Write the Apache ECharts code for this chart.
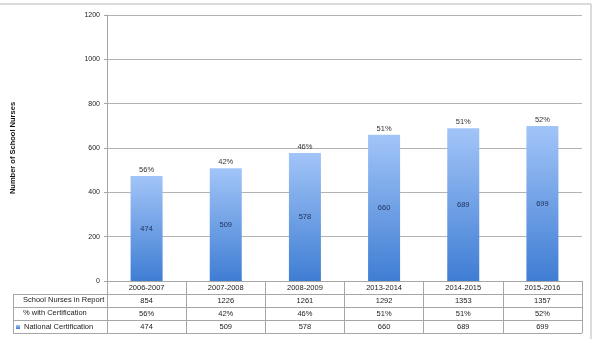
<!DOCTYPE html>
<html>
<head>
<meta charset="utf-8">
<script src="https://cdn.jsdelivr.net/npm/echarts@6/dist/echarts.min.js"></script>
<style>html,body{margin:0;padding:0;background:#fff}#c{width:594px;height:339px}</style>
</head>
<body>
<div id="c"></div>
<script>
const years = ['2006-2007','2007-2008','2008-2009','2013-2014','2014-2015','2015-2016'];
const nursesInReport = [854,1226,1261,1292,1353,1357];
const pctCert = ['56%','42%','46%','51%','51%','52%'];
const nationalCert = [474,509,578,660,689,699];
const yTicks = {min:0,max:1200,interval:200};

const FONT = 'Liberation Sans';
const chart = echarts.init(document.getElementById('c'));
const lineColor = '#a6a6a6';
const tableLineYs = [294,307,320,333];
const graphics = [];
// frame
graphics.push({type:'line',shape:{x1:0,y1:4,x2:591,y2:4},style:{stroke:'#cfcfcf',lineWidth:1.5}});
graphics.push({type:'line',shape:{x1:591,y1:4,x2:591,y2:339},style:{stroke:'#cfcfcf',lineWidth:1.5}});
// table horizontal lines
tableLineYs.forEach(y=>graphics.push({type:'line',shape:{x1:13,y1:y+0.5,x2:582,y2:y+0.5},style:{stroke:lineColor,lineWidth:1}}));
graphics.push({type:'line',shape:{x1:13.5,y1:294,x2:13.5,y2:333.5},style:{stroke:lineColor,lineWidth:1}});
graphics.push({type:'text',left:23,top:296,style:{text:'School Nurses in Report',font:'7.5px '+FONT,fill:'#222'}});
graphics.push({type:'text',left:23,top:309,style:{text:'% with Certification',font:'7.5px '+FONT,fill:'#222'}});

const offsets = [13,26,39];
const rows = [nursesInReport.map(String), pctCert, nationalCert.map(String)];

const option = {
  animation:false,
  textStyle:{fontFamily:FONT},
  grid:{left:107,right:12,top:15,bottom:58,containLabel:false},
  legend:{data:['National Certification'],left:16,top:323,itemWidth:4,itemHeight:4,itemGap:2,padding:[0,0,0,0],
    icon:'rect',textStyle:{fontSize:7.5,color:'#222',fontFamily:FONT,padding:[0,0,0,-1]}},
  graphic:graphics,
  xAxis:[
    {type:'category',data:years,position:'bottom',
     axisLine:{show:true,lineStyle:{color:lineColor}},
     axisTick:{show:true,interval:0,length:52,lineStyle:{color:lineColor}},
     axisLabel:{interval:0,margin:3,fontSize:7.5,color:'#222',fontFamily:FONT}},
  ].concat(rows.map((r,i)=>({type:'category',data:r,position:'bottom',offset:offsets[i],
     axisLine:{show:false},axisTick:{show:false},
     axisLabel:{interval:0,margin:3,fontSize:7.5,color:'#222',fontFamily:FONT}}))),
  yAxis:{type:'value',min:yTicks.min,max:yTicks.max,interval:yTicks.interval,
    name:'Number of School Nurses',nameLocation:'middle',nameRotate:90,nameGap:90,
    nameTextStyle:{fontSize:7.5,fontWeight:'bold',color:'#111',fontFamily:FONT},
    axisLine:{show:true,lineStyle:{color:lineColor}},
    axisTick:{show:true,length:3,lineStyle:{color:lineColor}},
    axisLabel:{fontSize:7,color:'#222',margin:7,fontFamily:FONT,formatter:v=>String(v)},
    splitLine:{lineStyle:{color:'#b3b3b3',width:1}}},
  series:[
    {name:'National Certification',type:'bar',data:nationalCert,barWidth:32,xAxisIndex:0,
     itemStyle:{color:new echarts.graphic.LinearGradient(0,0,0,1,[{offset:0,color:'#a2c5f8'},{offset:1,color:'#3f7dd3'}])},
     label:{show:true,position:'top',distance:2,fontSize:7.5,color:'#333',fontFamily:FONT,
       formatter:p=>pctCert[p.dataIndex]}},
    {name:'values',type:'bar',data:nationalCert,barWidth:32,barGap:'-100%',xAxisIndex:0,
     itemStyle:{color:'rgba(0,0,0,0)'},z:5,
     label:{show:true,position:'inside',fontSize:7.5,color:'#1c2f5a',fontFamily:FONT}}
  ]
};
chart.setOption(option);
</script>
</body>
</html>
